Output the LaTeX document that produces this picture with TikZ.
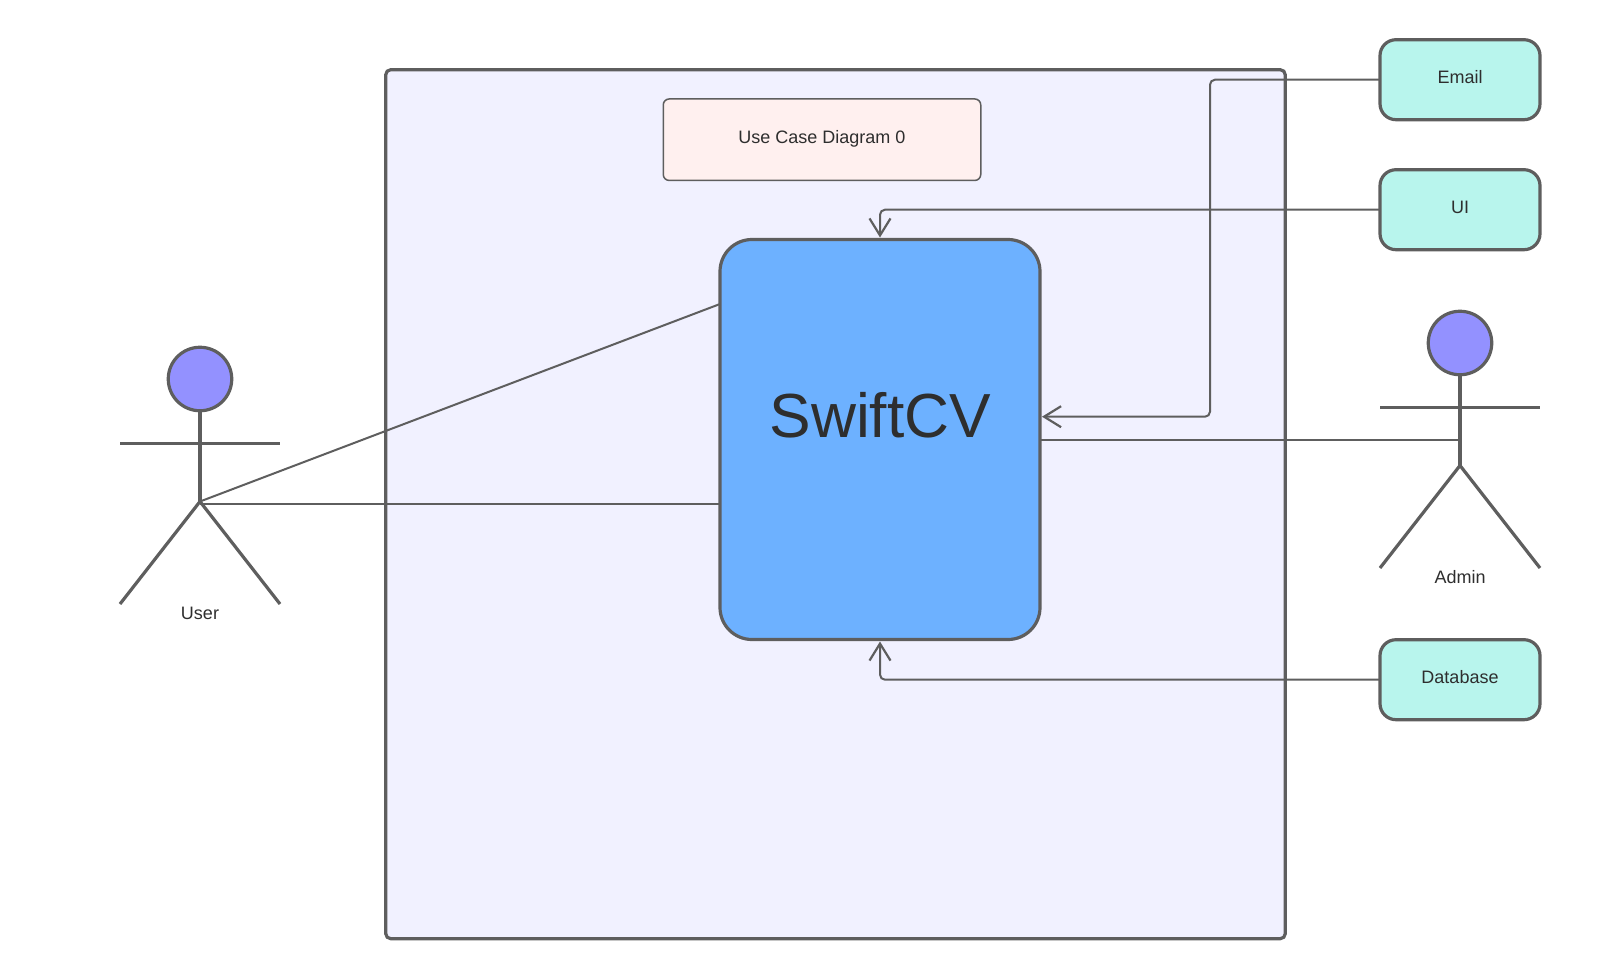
\documentclass[tikz,border=0pt]{standalone}
\usepackage{fontspec}
\setmainfont{Liberation Sans}
\usepackage{tikz}
\usetikzlibrary{calc,arrows.meta}
\definecolor{linegrey}{HTML}{5E5E5E}
\definecolor{textgrey}{HTML}{2E2E2E}
\definecolor{framefill}{HTML}{F1F1FF}
\definecolor{notefill}{HTML}{FFF0EF}
\definecolor{sysfill}{HTML}{6DB1FF}
\definecolor{extfill}{HTML}{B8F5ED}
\definecolor{headfill}{HTML}{9391FF}
\tikzset{
  lbl/.style={font=\fontsize{18}{20}\selectfont, text=textgrey, text height=13pt, text depth=5pt, inner sep=0pt},
  frame/.style={draw=linegrey, line width=3.2pt, fill=framefill, rounded corners=5pt, outer sep=0pt, minimum width=899.5pt, minimum height=869pt},
  note/.style={lbl, draw=linegrey, line width=1.5pt, fill=notefill, rounded corners=6pt, outer sep=0pt, minimum width=317.5pt, minimum height=81.5pt},
  sys/.style={draw=linegrey, line width=3.2pt, fill=sysfill, rounded corners=32pt, outer sep=0pt, minimum width=320pt, minimum height=400pt},
  ext/.style={lbl, draw=linegrey, line width=3.2pt, fill=extfill, rounded corners=16pt, outer sep=0pt, minimum width=160pt, minimum height=80pt},
  head/.style={circle, draw=linegrey, line width=3.2pt, fill=headfill, outer sep=0pt, inner sep=0pt, minimum size=63.5pt},
  stick/.style={draw=linegrey, line width=3.2pt},
  conn/.style={draw=linegrey, line width=2pt},
  link/.style={conn, rounded corners=5pt, shorten >=2pt, -{Straight Barb[length=17pt,width=21pt,line width=2.2pt]}},
}
\newcommand{\snode}[3]{\node [ext] (#1) at (#2) {#3}}
\newcommand{\actor}[3]{
  \node [head] (#1Head) at (#2) {};
  \coordinate (#1Hip) at ($(#1Head)+(0,122.5)$);
  \coordinate (#1ArmL) at ($(#1Head)+(-80,64.5)$);
  \coordinate (#1ArmR) at ($(#1Head)+(80,64.5)$);
  \coordinate (#1LegL) at ($(#1Hip)+(-80,102.5)$);
  \coordinate (#1LegR) at ($(#1Hip)+(80,102.5)$);
  \draw[stick] (#1Head.south) -- (#1Hip);
  \draw[stick] (#1ArmL) -- (#1ArmR);
  \draw[stick] (#1LegL) -- (#1Hip) -- (#1LegR);
  \node [lbl] (#1Label) at ($(#1LegL)!0.5!(#1LegR)+(0,11)$) {#3};
}
\begin{document}
\begin{tikzpicture}[x=1pt,y=-1pt]
\useasboundingbox (0,0) rectangle (1610,980);

\node [frame] (FRAME) at (835.5,504.2) {};
\node [note] (TITLE) at (822,139.7) {Use Case Diagram 0};
\node [sys] (SYS) at (880,439.5) {};
\node [font=\fontsize{62.3}{70}\selectfont, text=textgrey, inner sep=0pt] (SYSNAME) at (880.3,415.7) {SwiftCV};

\snode{EMAIL}{1460,79.7}{Email};
\snode{UI}{1460,209.7}{UI};
\snode{DB}{1460,679.7}{Database};

\actor{USER}{200,379}{User}
\actor{ADMIN}{1460,343}{Admin}

\coordinate (SYSIN) at (SYS.east |- 0,416.7);
\coordinate (BEND) at (1210,79.7);
\coordinate (SYSL) at (SYS.west |- 0,304);
\coordinate (USERTIE) at ($(USERHip)+(0,2)$);

\draw[link] (EMAIL.west) -- (BEND) |- (SYSIN);
\draw[link] (UI.west) -| (SYS.north);
\draw[link] (DB.west) -| (SYS.south);
\draw[conn] (USERTIE) -- (SYS.west |- USERTIE);
\draw[conn] (USERHip) -- (SYSL);
\draw[conn] (SYS.east) -- (SYS.east -| ADMINHip);

\end{tikzpicture}
\end{document}
